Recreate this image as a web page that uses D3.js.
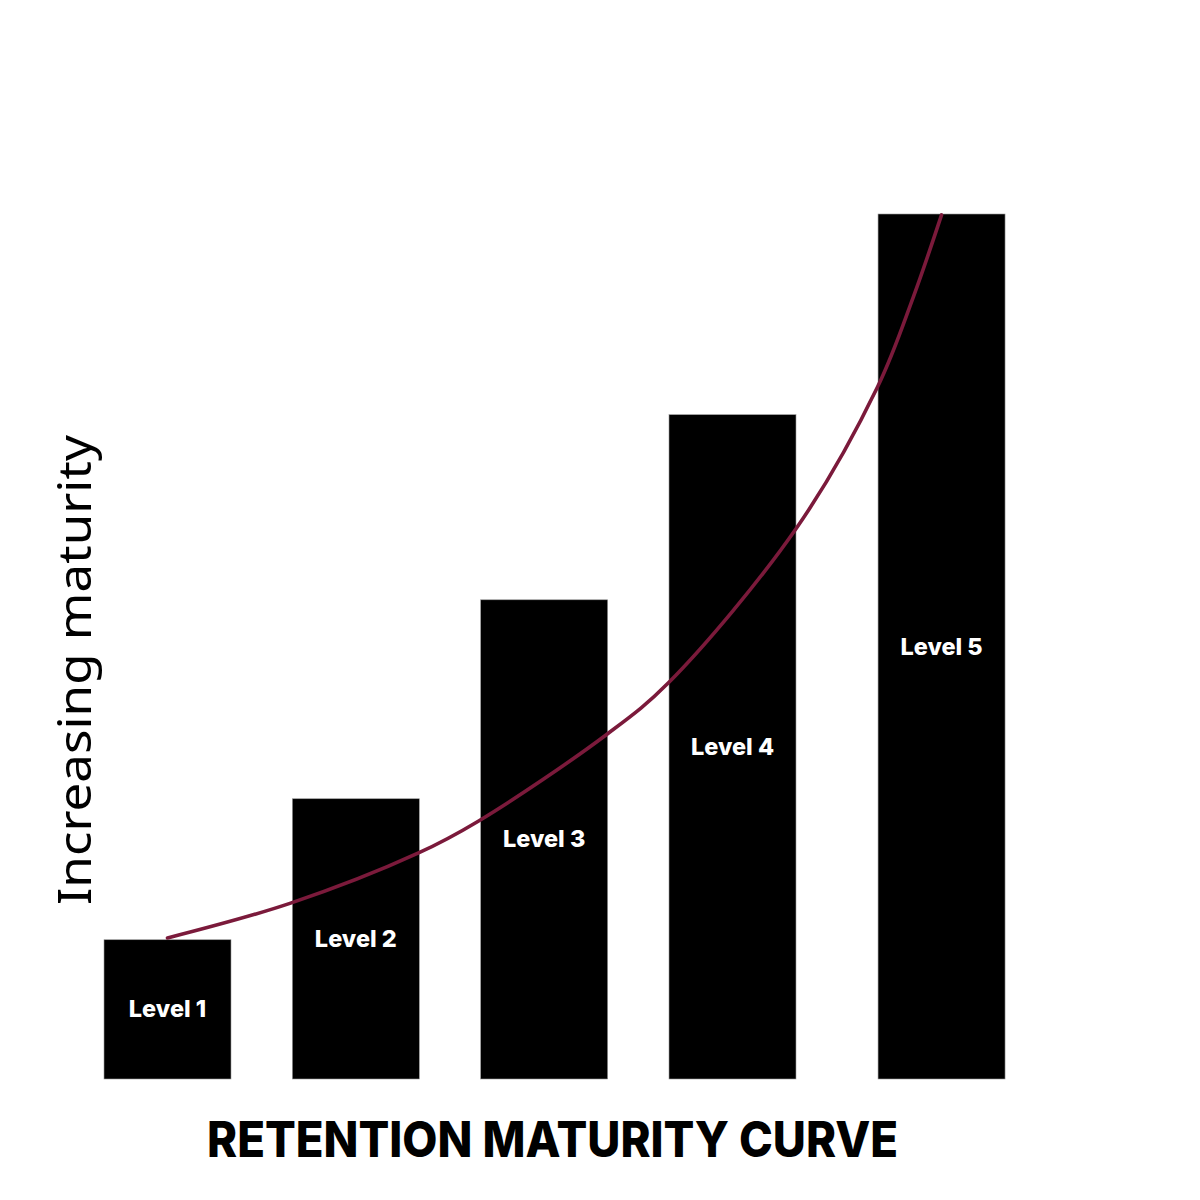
<!DOCTYPE html>
<html>
<head>
<meta charset="utf-8">
<script src="https://cdn.jsdelivr.net/npm/d3@7"></script>
<style>
  html, body { margin: 0; padding: 0; background: #fff; }
  svg { display: block; }
</style>
</head>
<body>
<svg id="chart" width="1200" height="1200"></svg>
<script>
// Levels and their heights (0-100 maturity scale)
const levels = ['Level 1', 'Level 2', 'Level 3', 'Level 4', 'Level 5'];
const levelPos = [1, 2, 3, 4, 5.11];
const levelValues = [16.1, 32.4, 55.4, 76.8, 100];

// maturity curve
const curveX = [1.0, 1.65, 2.33, 2.65, 3.33, 3.66, 4.34, 4.77, 4.96, 5.11];
const curveY = [16.3, 20.3, 26.1, 29.8, 39.8, 45.8, 63.7, 80.0, 90.4, 99.9];

const svg = d3.select('#chart');

const x = d3.scaleLinear().domain([1, 4]).range([167.5, 732.5]);
const y = d3.scaleLinear().domain([0, 100]).range([1079, 214]);
const barWidth = 127;

const bars = levels.map((l, i) => ({ label: l, pos: levelPos[i], value: levelValues[i] }));

svg.append('g')
  .selectAll('rect')
  .data(bars)
  .join('rect')
  .attr('x', d => x(d.pos) - barWidth / 2)
  .attr('y', d => y(d.value))
  .attr('width', barWidth)
  .attr('height', d => y(0) - y(d.value))
  .attr('fill', '#000')
  .attr('stroke', '#9a9a9a')
  .attr('stroke-width', 0.6);

// labels sit in the middle of each bar
svg.append('g')
  .selectAll('text')
  .data(bars)
  .join('text')
  .attr('x', d => x(d.pos))
  .attr('y', d => (y(d.value) + y(0)) / 2 + 8)
  .attr('text-anchor', 'middle')
  .attr('fill', '#fff')
  .attr('font-family', 'Inter, "Noto Sans", sans-serif')
  .attr('font-weight', 800)
  .attr('font-size', 23.5)
  .text(d => d.label);

const line = d3.line()
  .x(d => x(d[0]))
  .y(d => y(d[1]))
  .curve(d3.curveCatmullRom);

svg.append('path')
  .datum(curveX.map((v, i) => [v, curveY[i]]))
  .attr('d', line)
  .attr('fill', 'none')
  .attr('stroke', '#7b1a3b')
  .attr('stroke-width', 3.6)
  .attr('stroke-linecap', 'round');

// axis title
svg.append('text')
  .attr('transform', 'translate(91,670) rotate(-90)')
  .attr('text-anchor', 'middle')
  .attr('font-family', '"Noto Sans", sans-serif')
  .attr('font-weight', 400)
  .attr('font-size', 46)
  .attr('textLength', 470)
  .attr('lengthAdjust', 'spacingAndGlyphs')
  .attr('fill', '#000')
  .text('Increasing maturity');

svg.append('text')
  .attr('x', 552.5)
  .attr('y', 1157)
  .attr('text-anchor', 'middle')
  .attr('font-family', 'Inter, "Noto Sans", sans-serif')
  .attr('font-weight', 800)
  .attr('font-size', 49)
  .attr('textLength', 691)
  .attr('lengthAdjust', 'spacingAndGlyphs')
  .attr('fill', '#000')
  .text('RETENTION MATURITY CURVE');
</script>
</body>
</html>
